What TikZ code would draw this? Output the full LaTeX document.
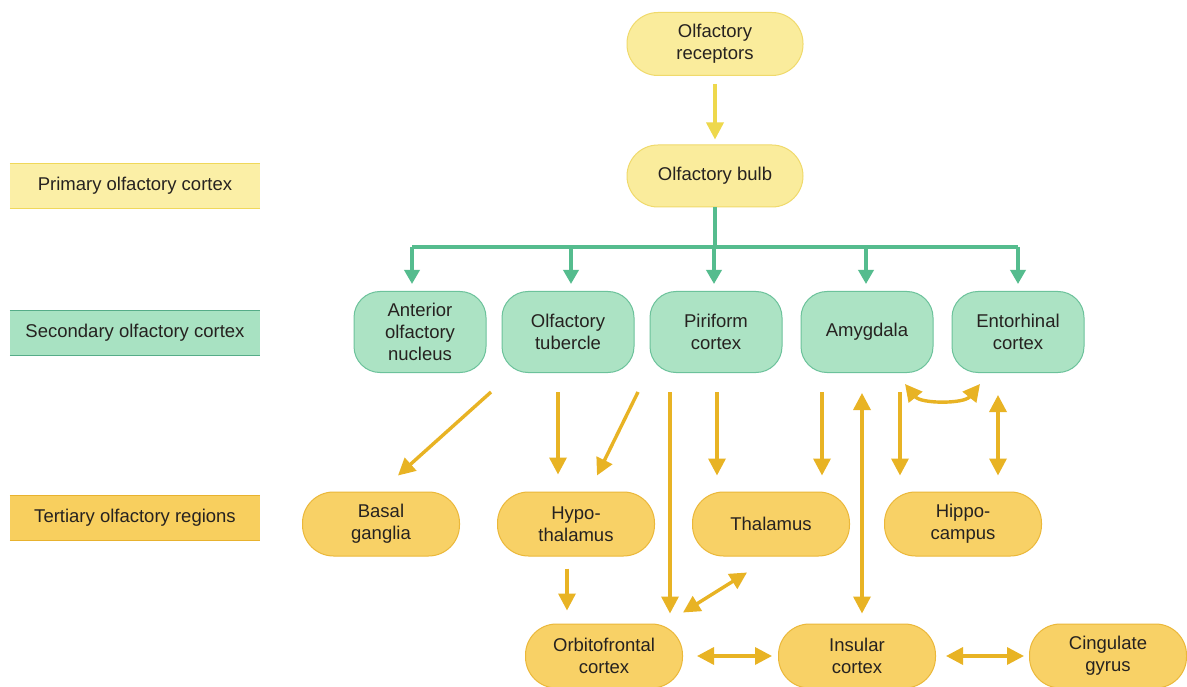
\documentclass[tikz,border=0pt]{standalone}
\usepackage{fontspec}
\setmainfont{Liberation Sans}
\usetikzlibrary{arrows.meta,calc}
\definecolor{txt}{HTML}{262220}
\definecolor{pfill}{HTML}{FBEFA6}
\definecolor{pline}{HTML}{F0D85A}
\definecolor{sfill}{HTML}{A8E2C2}
\definecolor{sline}{HTML}{55AC88}
\definecolor{tfill}{HTML}{F8CF5E}
\definecolor{tline}{HTML}{E8B22E}
\definecolor{rfill}{HTML}{FAEC9C}
\definecolor{rbord}{HTML}{F0DA6C}
\definecolor{gfill}{HTML}{ACE3C4}
\definecolor{gbord}{HTML}{6CC29B}
\definecolor{yfill}{HTML}{F8D166}
\definecolor{ybord}{HTML}{EBB83A}
\definecolor{yarr}{HTML}{E8B324}
\definecolor{larr}{HTML}{EED84C}
\definecolor{garr}{HTML}{55BC8E}
\begin{document}
\begin{tikzpicture}[x=1pt,y=-1pt,
  font=\fontsize{18.5}{22}\selectfont, text=txt,
  rbox/.style={draw=rbord, fill=rfill, line width=1pt, rounded corners=31pt,
    minimum width=176pt, minimum height=63pt, align=center, inner sep=0pt},
  gbox/.style={draw=gbord, fill=gfill, line width=1pt, rounded corners=26pt,
    minimum width=132pt, minimum height=81pt, align=center, inner sep=0pt},
  tbox/.style={draw=ybord, fill=yfill, line width=1pt, rounded corners=31pt,
    minimum width=157pt, minimum height=64pt, align=center, inner sep=0pt},
  lab/.style={minimum width=250pt, minimum height=45pt, inner sep=0pt},
  yarrow/.style={draw=yarr, line width=3.4pt, -{Triangle[length=17pt,width=17pt]}},
  yboth/.style={draw=yarr, line width=3.4pt, {Triangle[length=17pt,width=17pt]}-{Triangle[length=17pt,width=17pt]}},
  garrow/.style={draw=garr, line width=3.4pt, -{Triangle[length=14pt,width=15pt]}},
  gline/.style={draw=garr, line width=3.4pt}
]
\useasboundingbox (0,0) rectangle (1187,687);
\fill[white] (0,0) rectangle (1187,687);

% left level labels
\node[lab, fill=pfill] (prim) at (135,186) {Primary olfactory cortex};
\draw[pline, line width=1.2pt] (prim.north west) -- (prim.north east) (prim.south west) -- (prim.south east);
\node[lab, fill=sfill] (sec) at (135,333) {Secondary olfactory cortex};
\draw[sline, line width=1.2pt] (sec.north west) -- (sec.north east) (sec.south west) -- (sec.south east);
\node[lab, fill=tfill] (ter) at (135,518) {Tertiary olfactory regions};
\draw[tline, line width=1.2pt] (ter.north west) -- (ter.north east) (ter.south west) -- (ter.south east);

% top nodes
\node[rbox] (rec) at (715,44) {Olfactory\\receptors};
\node[rbox, minimum height=62pt] (bulb) at (715,176) {Olfactory bulb};

% secondary
\node[gbox] (ant) at (420,332) {Anterior\\olfactory\\nucleus};
\node[gbox] (tub) at (568,332) {Olfactory\\tubercle};
\node[gbox] (pir) at (716,332) {Piriform\\cortex};
\node[gbox] (amy) at (867,332) {Amygdala};
\node[gbox] (ent) at (1018,332) {Entorhinal\\cortex};

% tertiary
\node[tbox] (bas) at (381,524) {Basal\\ganglia};
\node[tbox] (hyp) at (576,524) {Hypo-\\thalamus};
\node[tbox] (tha) at (771,524) {Thalamus};
\node[tbox] (hip) at (963,524) {Hippo-\\campus};
\node[tbox] (orb) at (604,656) {Orbitofrontal\\cortex};
\node[tbox] (ins) at (857,656) {Insular\\cortex};
\node[tbox] (cin) at (1108,656) {Cingulate\\gyrus};

% receptors -> bulb
\draw[draw=larr, line width=3.4pt, -{Triangle[length=17pt,width=17pt]}]
  ([yshift=-8pt]rec.south) -- ([yshift=5pt]bulb.north);

% green distribution tree
\coordinate (hub) at ($(bulb.south)+(0,41)$);
\draw[gline] (bulb.south) -- (hub);
\draw[gline] ($(ant.north)+(-8,-44)$) -- ($(ent.north)+(0,-44)$);
\draw[garrow] ($(ant.north)+(-8,-44)$) -- ($(ant.north)+(-8,-7)$);
\draw[garrow] ($(tub.north)+(3,-44)$) -- ($(tub.north)+(3,-7)$);
\draw[garrow] ($(pir.north)+(-2,-44)$) -- ($(pir.north)+(-2,-7)$);
\draw[garrow] ($(amy.north)+(-1,-44)$) -- ($(amy.north)+(-1,-7)$);
\draw[garrow] ($(ent.north)+(0,-44)$) -- ($(ent.north)+(0,-7)$);

% yellow connectors
\draw[yarrow] ($(ant.south)+(71,19)$) -- ($(bas.north)+(17,-16)$);
\draw[yarrow] ($(tub.south)+(-10,19)$) -- ($(hyp.north)+(-18,-17)$);
\draw[yarrow] ($(tub.south)+(70,19)$) -- ($(hyp.north)+(21,-16)$);
\draw[yarrow] ($(pir.south)+(-46,19)$) -- ($(orb.north)+(66,-10)$);
\draw[yarrow] ($(pir.south)+(1,19)$) -- ($(tha.north)+(-54,-16)$);
\draw[yarrow] ($(hyp.south)+(-9,12)$) -- ($(orb.north)+(-37,-13)$);
\draw[yboth] ($(orb.north)+(79,-11)$) -- ($(tha.south)+(-24,16)$);
\draw[yarrow] ($(amy.south)+(-45,19)$) -- ($(tha.north)+(51,-16)$);
\draw[yboth] ($(amy.south)+(-5,20)$) -- ($(ins.north)+(5,-10)$);
\draw[yarrow] ($(amy.south)+(33,19)$) -- ($(hip.north)+(-63,-16)$);
\draw[yboth] ($(amy.south)+(38,11)$) .. controls +(16,20) and +(-16,20) .. ($(ent.south)+(-38,11)$);
\draw[yboth] ($(ent.south)+(-20,22)$) -- ($(hip.north)+(35,-16)$);
\draw[yboth] ($(orb.east)+(14,0)$) -- ($(ins.west)+(-6,0)$);
\draw[yboth] ($(ins.east)+(10,0)$) -- ($(cin.west)+(-5,0)$);
\end{tikzpicture}
\end{document}
